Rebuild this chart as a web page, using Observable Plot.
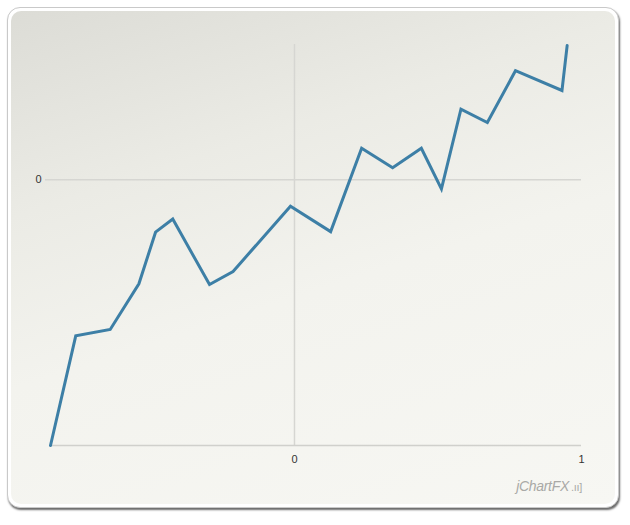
<!DOCTYPE html>
<html>
<head>
<meta charset="utf-8">
<script src="https://cdn.jsdelivr.net/npm/d3@7"></script>
<script src="https://cdn.jsdelivr.net/npm/@observablehq/plot@0.6"></script>
<style>
  html, body { margin: 0; padding: 0; background: #ffffff; }
  body { width: 630px; height: 525px; position: relative; overflow: hidden; font-family: "Liberation Sans", Arial, sans-serif; }
  #panel { position: absolute; left: 7px; top: 7px; width: 610px; height: 499px; border-radius: 13px; background: #ffffff; border: 1px solid #c9c9c9; box-shadow: 1px 2px 2px #6a6a6a; }
  #inner { position: absolute; left: 3px; top: 3px; right: 3px; bottom: 3px; border-radius: 10px;
           background: linear-gradient(162deg, #dcdcd6 0%, #ebebe5 30%, #f3f3ee 55%, #f7f7f3 100%); }
  #chart { position: absolute; left: 0; top: 0; }
  #logo { position: absolute; right: 48px; top: 478px; color: #a9a9a6; font-style: italic; font-size: 14px; font-family: "Liberation Sans", Arial, sans-serif; letter-spacing: -0.3px; }
  #logo span { font-size: 11px; font-style: normal; margin-left: 2px; }
</style>
</head>
<body>
<div id="panel"><div id="inner"></div></div>
<div id="chart"></div>
<div id="logo">jChartFX<span>.ıı]</span></div>
<script>
// Data
const xs = [0.075, 0.119, 0.179, 0.229, 0.258, 0.288, 0.352, 0.393, 0.493, 0.563, 0.617, 0.671, 0.721, 0.756, 0.790, 0.836, 0.885, 0.966, 0.975];
const ys = [0.000, 0.410, 0.434, 0.605, 0.798, 0.847, 0.602, 0.651, 0.895, 0.800, 1.112, 1.039, 1.112, 0.960, 1.258, 1.208, 1.402, 1.328, 1.496];

const xTicks = [0.5, 1];
const xTickLabels = ["0", "1"];
const yTicks = [0.994];
const yTickLabels = ["0"];
const xGrid = [0.5];
const xDomain = [0.075, 1];
const yDomain = [0, 1.5];

const data = xs.map((x, i) => ({x, y: ys[i]}));

const chart = Plot.plot({
  width: 630,
  height: 525,
  marginLeft: 50,
  marginRight: 49,
  marginTop: 44,
  marginBottom: 80,
  style: { background: "transparent", fontFamily: "Liberation Sans, Arial, sans-serif", fontSize: "11px", color: "#333" },
  x: { domain: xDomain, label: null },
  y: { domain: yDomain, label: null },
  marks: [
    Plot.ruleX(xGrid, { stroke: "#d6d6d2", strokeWidth: 1.5 }),
    Plot.ruleY(yTicks, { stroke: "#d6d6d2", strokeWidth: 1.5 }),
    Plot.ruleY([yDomain[0]], { stroke: "#d0d0cc", strokeWidth: 1.5 }),
    Plot.axisX({ ticks: xTicks, tickFormat: (d, i) => xTickLabels[i], tickSize: 0, tickPadding: 10, fill: "#333", fontSize: 11, label: null }),
    Plot.axisY({ ticks: yTicks, tickFormat: (d, i) => yTickLabels[i], tickSize: 5, tickPadding: 4, stroke: "#d6d6d2", strokeWidth: 1.5, fill: "#333", fontSize: 11, label: null }),
    Plot.line(data, { x: "x", y: "y", stroke: "#3d7fa6", strokeWidth: 3, strokeLinejoin: "miter", strokeMiterlimit: 4 })
  ]
});
document.getElementById("chart").appendChild(chart);
</script>
</body>
</html>
